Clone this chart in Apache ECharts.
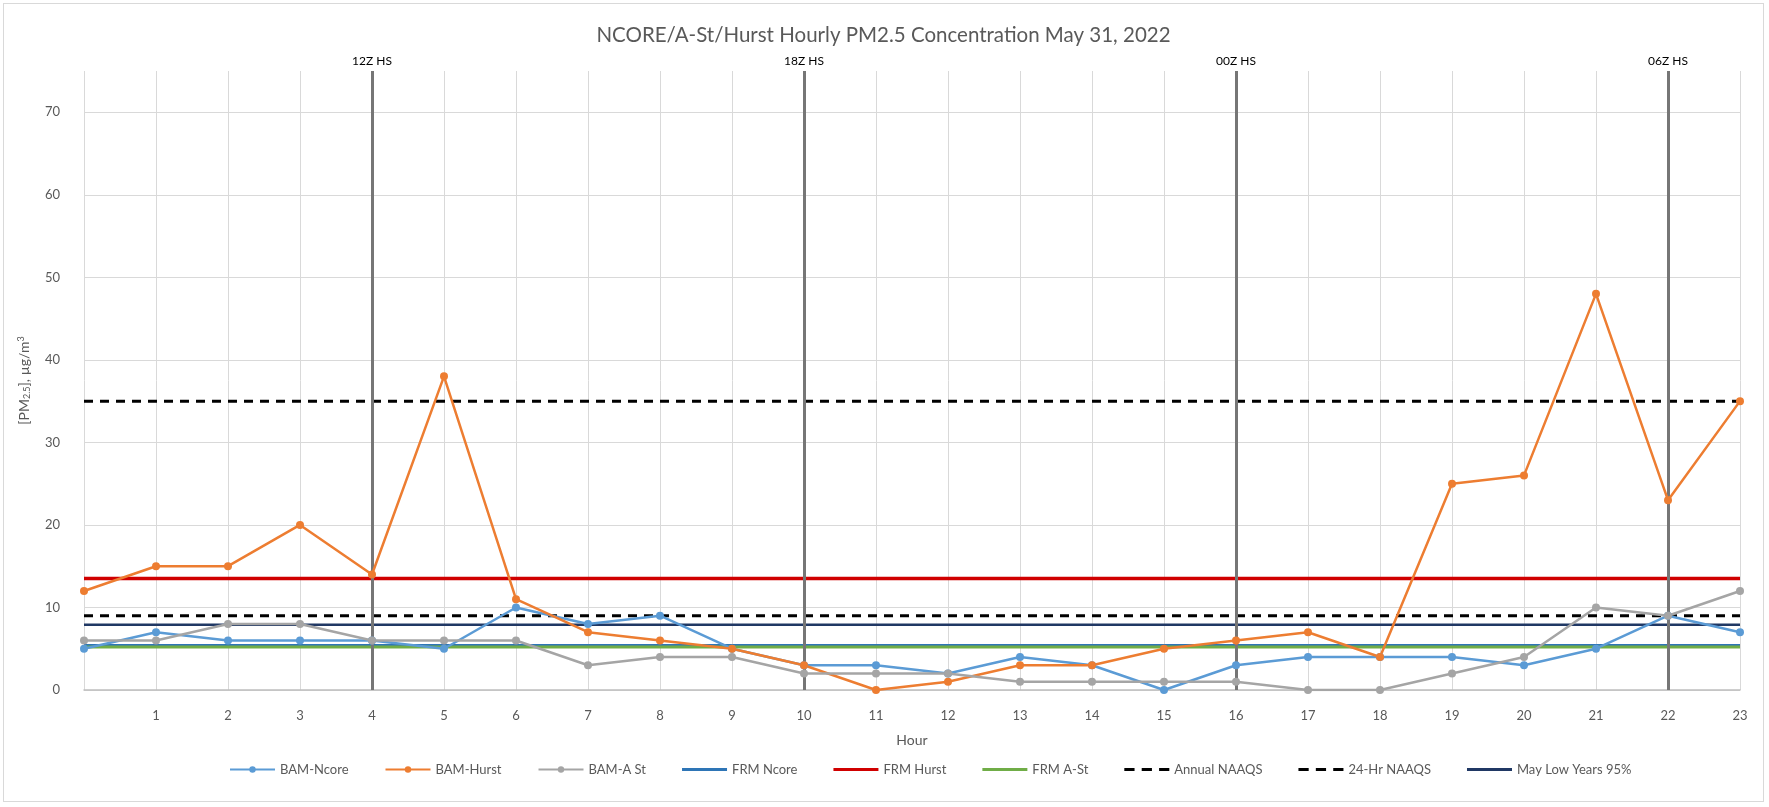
<!DOCTYPE html>
<html>
<head>
<meta charset="utf-8">
<script src="https://cdn.jsdelivr.net/npm/echarts@6/dist/echarts.min.js"></script>
<style>
  html, body { margin: 0; padding: 0; background: #fff; }
  #chart { position: absolute; left: 3px; top: 3px; width: 1761px; height: 799px; border: 1px solid #d9d9d9; box-sizing: border-box; }
</style>
</head>
<body>
<div id="chart"></div>
<script>
// hours of the day
const hours = ["0","1","2","3","4","5","6","7","8","9","10","11","12","13","14","15","16","17","18","19","20","21","22","23"];

// hourly BAM readings, ug/m3
const bamNcore = [5, 7, 6, 6, 6, 5, 10, 8, 9, 5, 3, 3, 2, 4, 3, 0, 3, 4, 4, 4, 3, 5, 9, 7];
const bamHurst = [12, 15, 15, 20, 14, 38, 11, 7, 6, 5, 3, 0, 1, 3, 3, 5, 6, 7, 4, 25, 26, 48, 23, 35];
const bamASt = [6, 6, 8, 8, 6, 6, 6, 3, 4, 4, 2, 2, 2, 1, 1, 1, 1, 0, 0, 2, 4, 10, 9, 12];

// reference levels
const frmNcore = 5.4;
const frmHurst = 13.5;
const frmASt = 5.2;
const annualNaaqs = 9;
const dailyNaaqs = 35;
const mayLow95 = 7.9;

// sounding times
const soundingHours = ["4", "10", "16", "22"];
const soundingLabels = ["12Z HS", "18Z HS", "00Z HS", "06Z HS"];

const flat = (v) => hours.map(() => v);
const font = "Lato, 'Open Sans', sans-serif";
const solidIcon = "path://M0,0H45V3H0Z";
const dashIcon = "path://M0,0H10V3H0Z M17,0H27V3H17Z M34,0H44V3H34Z";

const chart = echarts.init(document.getElementById("chart"));

const dataLine = (name, data, color) => ({
  name, type: "line", data,
  symbol: "circle", symbolSize: 8,
  itemStyle: { color },
  lineStyle: { color, width: 2.5 },
  z: 5
});
const refLine = (name, value, color, width, type) => ({
  name, type: "line", data: flat(value),
  symbol: "none",
  itemStyle: { color },
  lineStyle: { color, width, type: type || "solid" },
  z: 4
});

const series = [
  dataLine("BAM-Ncore", bamNcore, "#5B9BD5"),
  dataLine("BAM-Hurst", bamHurst, "#ED7D31"),
  dataLine("BAM-A St", bamASt, "#A5A5A5"),
  refLine("FRM Ncore", frmNcore, "#2E75B6", 3),
  refLine("FRM Hurst", frmHurst, "#D00000", 3.5),
  refLine("FRM A-St", frmASt, "#70AD47", 3),
  refLine("Annual NAAQS", annualNaaqs, "#000000", 3, [9, 7]),
  refLine("24-Hr NAAQS", dailyNaaqs, "#000000", 3, [9, 7]),
  refLine("May Low Years 95%", mayLow95, "#203864", 2.5)
];

series[0].markLine = {
  silent: true,
  symbol: "none",
  lineStyle: { color: "#767676", width: 3, type: "solid" },
  label: {
    show: true, position: "end", distance: 4,
    color: "#000", fontSize: 12, fontFamily: "'Liberation Sans Narrow', " + font,
    formatter: (p) => p.name
  },
  data: soundingHours.map((h, i) => ({ xAxis: h, name: soundingLabels[i] }))
};

chart.setOption({
  animation: false,
  textStyle: { fontFamily: font },
  title: {
    text: "NCORE/A-St/Hurst Hourly PM2.5 Concentration May 31, 2022",
    left: "center", top: 16,
    textStyle: { fontSize: 20.5, fontWeight: "normal", color: "#595959", fontFamily: font }
  },
  grid: { left: 80, right: 23, top: 67, bottom: 111 },
  legend: {
    bottom: 20, left: 220,
    itemGap: 36, itemWidth: 45, itemHeight: 8,
    textStyle: { color: "#595959", fontSize: 13, fontFamily: font },
    data: series.map((s, i) => i < 3 ? { name: s.name } : {
      name: s.name,
      icon: s.lineStyle.type === "solid" ? solidIcon : dashIcon
    })
  },
  xAxis: {
    type: "category",
    data: hours,
    boundaryGap: false,
    name: "Hour", nameLocation: "middle", nameGap: 43,
    nameTextStyle: { color: "#595959", fontSize: 14 },
    axisLine: { lineStyle: { color: "#bfbfbf", width: 1.5 } },
    axisTick: { show: false },
    axisLabel: {
      color: "#595959", fontSize: 13, margin: 19,
      formatter: (v) => (v === "0" ? "" : v)
    },
    splitLine: { show: true, lineStyle: { color: "#d9d9d9", width: 1 } }
  },
  yAxis: {
    type: "value", min: 0, max: 75, interval: 10,
    name: "[PM{sub|2.5}], µg/m{sup|3}",
    nameLocation: "middle", nameGap: 52, nameRotate: 90,
    nameTextStyle: {
      color: "#595959", fontSize: 14,
      rich: {
        sub: { fontSize: 9, verticalAlign: "bottom", color: "#595959", padding: [6, 0, 0, 0] },
        sup: { fontSize: 9, verticalAlign: "top", color: "#595959", padding: [0, 0, 6, 0] }
      }
    },
    axisLine: { show: false },
    axisTick: { show: false },
    axisLabel: {
      color: "#595959", fontSize: 13, margin: 24,
      showMaxLabel: false
    },
    splitLine: { show: true, showMaxLine: false, lineStyle: { color: "#d9d9d9", width: 1 } }
  },
  series
});
</script>
</body>
</html>
